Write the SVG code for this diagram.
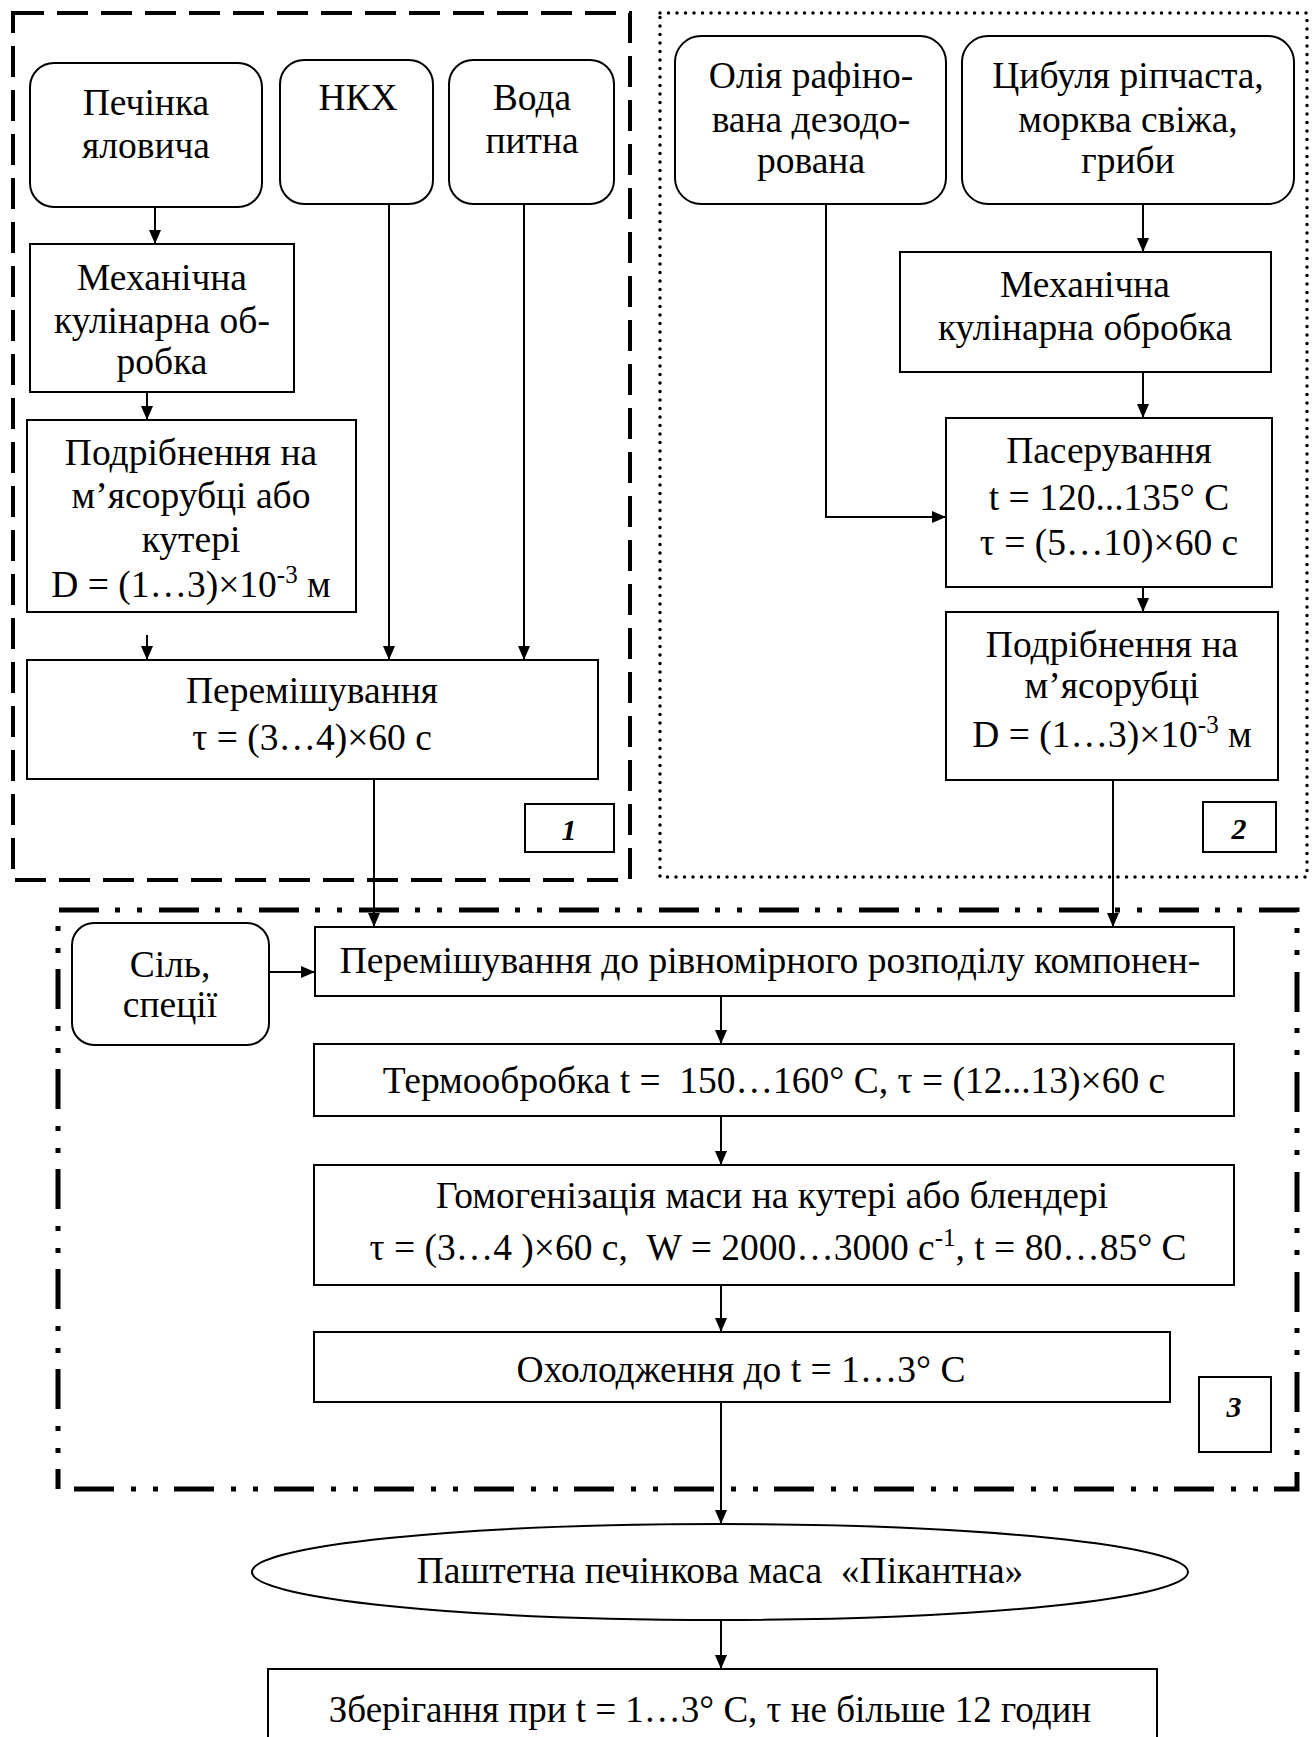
<svg xmlns="http://www.w3.org/2000/svg" width="1316" height="1737" viewBox="0 0 1316 1737">
  <style>
    text { font-family: "Liberation Serif", "Times New Roman", serif; font-size: 37.5px; fill: #000; text-anchor: middle; }
    .box { fill: #fff; stroke: #000; stroke-width: 2; }
    .tag { fill: #fff; stroke: #000; stroke-width: 2; }
    .tagt { font-size: 30px; font-style: italic; font-weight: bold; }
    .sup { font-size: 25px; }
    .link { fill: none; stroke: #000; stroke-width: 2; marker-end: url(#arrow); }
    .zone1 { fill: none; stroke: #000; stroke-width: 4; stroke-dasharray: 31 13; }
    .zone2 { fill: none; stroke: #000; stroke-width: 3.5; stroke-dasharray: 0 8.5; stroke-linecap: round; }
    .zone3 { fill: none; stroke: #000; stroke-width: 5; stroke-dasharray: 40 16 5 17 5 17; }
  </style>
  <defs>
    <marker id="arrow" viewBox="0 0 14 12" refX="14" refY="6" markerWidth="14" markerHeight="12" markerUnits="userSpaceOnUse" orient="auto">
      <path d="M0,0 L14,6 L0,12 z" fill="#000"/>
    </marker>
  </defs>

  <rect width="1316" height="1737" fill="#fff"/>

  <!-- stage frames -->
  <g id="zones">
    <rect class="zone1" x="13" y="13" width="617" height="867"/>
    <rect class="zone2" x="660" y="13" width="647" height="864"/>
    <path class="zone3" d="M58,1489 V910 H1297 V1489 Z" stroke-dashoffset="20"/>
  </g>

  <!-- connectors -->
  <g id="connectors">
    <line class="link" x1="155" y1="207" x2="155" y2="244"/>
    <line class="link" x1="147" y1="392" x2="147" y2="420"/>
    <line class="link" x1="147" y1="635" x2="147" y2="660"/>
    <line class="link" x1="389" y1="204" x2="389" y2="660"/>
    <line class="link" x1="524" y1="204" x2="524" y2="660"/>
    <line class="link" x1="374" y1="779" x2="374" y2="927"/>
    <line class="link" x1="1143" y1="204" x2="1143" y2="252"/>
    <line class="link" x1="1143" y1="372" x2="1143" y2="418"/>
    <path class="link" d="M826,204 V517 H946"/>
    <line class="link" x1="1143" y1="587" x2="1143" y2="612"/>
    <line class="link" x1="1113" y1="780" x2="1113" y2="927"/>
    <line class="link" x1="269" y1="972" x2="315" y2="972"/>
    <line class="link" x1="721" y1="996" x2="721" y2="1044"/>
    <line class="link" x1="721" y1="1116" x2="721" y2="1165"/>
    <line class="link" x1="721" y1="1285" x2="721" y2="1332"/>
    <line class="link" x1="721" y1="1402" x2="721" y2="1524"/>
    <line class="link" x1="721" y1="1620" x2="721" y2="1669"/>
  </g>

  <!-- stage 1 -->
  <g id="n-pechinka">
    <rect class="box" x="30" y="63" width="232" height="144" rx="24"/>
    <text x="146" y="115">Печінка</text>
    <text x="146" y="158">яловича</text>
  </g>
  <g id="n-nkh">
    <rect class="box" x="280" y="60" width="153" height="144" rx="24"/>
    <text x="358" y="110">НКХ</text>
  </g>
  <g id="n-voda">
    <rect class="box" x="449" y="60" width="165" height="144" rx="24"/>
    <text x="532" y="110">Вода</text>
    <text x="532" y="153">питна</text>
  </g>
  <g id="n-mech1">
    <rect class="box" x="30" y="244" width="264" height="148"/>
    <text x="162" y="290">Механічна</text>
    <text x="162" y="333">кулінарна об-</text>
    <text x="162" y="374">робка</text>
  </g>
  <g id="n-podr1">
    <rect class="box" x="27" y="420" width="329" height="192"/>
    <text x="191" y="465">Подрібнення на</text>
    <text x="191" y="508">м’ясорубці або</text>
    <text x="191" y="552">кутері</text>
    <text x="191" y="597">D = (1…3)×10<tspan class="sup" dy="-14">-3</tspan><tspan dy="14"> м</tspan></text>
  </g>
  <g id="n-mix1">
    <rect class="box" x="27" y="660" width="571" height="119"/>
    <text x="312" y="703">Перемішування</text>
    <text x="312" y="750">τ = (3…4)×60 с</text>
  </g>
  <g id="tag-1">
    <rect class="tag" x="525" y="804" width="89" height="48"/>
    <text class="tagt" x="569" y="840">1</text>
  </g>

  <!-- stage 2 -->
  <g id="n-oliya">
    <rect class="box" x="675" y="36" width="271" height="168" rx="26"/>
    <text x="811" y="88">Олія рафіно-</text>
    <text x="811" y="132">вана дезодо-</text>
    <text x="811" y="173">рована</text>
  </g>
  <g id="n-tsybulia">
    <rect class="box" x="962" y="36" width="332" height="168" rx="26"/>
    <text x="1128" y="88">Цибуля ріпчаста,</text>
    <text x="1128" y="132">морква свіжа,</text>
    <text x="1128" y="173">гриби</text>
  </g>
  <g id="n-mech2">
    <rect class="box" x="900" y="252" width="371" height="120"/>
    <text x="1085" y="297">Механічна</text>
    <text x="1085" y="340">кулінарна обробка</text>
  </g>
  <g id="n-paser">
    <rect class="box" x="946" y="418" width="326" height="169"/>
    <text x="1109" y="463">Пасерування</text>
    <text x="1109" y="510">t = 120...135° C</text>
    <text x="1109" y="555">τ = (5…10)×60 с</text>
  </g>
  <g id="n-podr2">
    <rect class="box" x="946" y="612" width="332" height="168"/>
    <text x="1112" y="657">Подрібнення на</text>
    <text x="1112" y="698">м’ясорубці</text>
    <text x="1112" y="747">D = (1…3)×10<tspan class="sup" dy="-14">-3</tspan><tspan dy="14"> м</tspan></text>
  </g>
  <g id="tag-2">
    <rect class="tag" x="1203" y="802" width="73" height="50"/>
    <text class="tagt" x="1239" y="839">2</text>
  </g>

  <!-- stage 3 -->
  <g id="n-sil">
    <rect class="box" x="72" y="923" width="197" height="122" rx="22"/>
    <text x="170" y="977">Сіль,</text>
    <text x="170" y="1017">спеції</text>
  </g>
  <g id="n-mix2">
    <rect class="box" x="315" y="927" width="919" height="69"/>
    <text x="770" y="973">Перемішування до рівномірного розподілу компонен-</text>
  </g>
  <g id="n-termo">
    <rect class="box" x="314" y="1044" width="920" height="72"/>
    <text x="774" y="1093" xml:space="preserve">Термообробка t =  150…160° C, τ = (12...13)×60 с</text>
  </g>
  <g id="n-homo">
    <rect class="box" x="314" y="1165" width="920" height="120"/>
    <text x="772" y="1208">Гомогенізація маси на кутері або блендері</text>
    <text x="778" y="1260" xml:space="preserve">τ = (3…4 )×60 с,  W = 2000…3000 с<tspan class="sup" dy="-14">-1</tspan><tspan dy="14">, t = 80…85° C</tspan></text>
  </g>
  <g id="n-cool">
    <rect class="box" x="314" y="1332" width="856" height="70"/>
    <text x="741" y="1382">Охолодження до t = 1…3° C</text>
  </g>
  <g id="tag-3">
    <rect class="tag" x="1199" y="1377" width="72" height="75"/>
    <text class="tagt" x="1234" y="1417">3</text>
  </g>

  <!-- product and storage -->
  <g id="n-pate">
    <ellipse class="box" cx="720" cy="1572" rx="468" ry="48"/>
    <text x="720" y="1583" xml:space="preserve">Паштетна печінкова маса  «Пікантна»</text>
  </g>
  <g id="n-store">
    <rect class="box" x="268" y="1669" width="889" height="90"/>
    <text x="710" y="1722" style="font-size:37px">Зберігання при t = 1…3° C, τ не більше 12 годин</text>
  </g>
</svg>
